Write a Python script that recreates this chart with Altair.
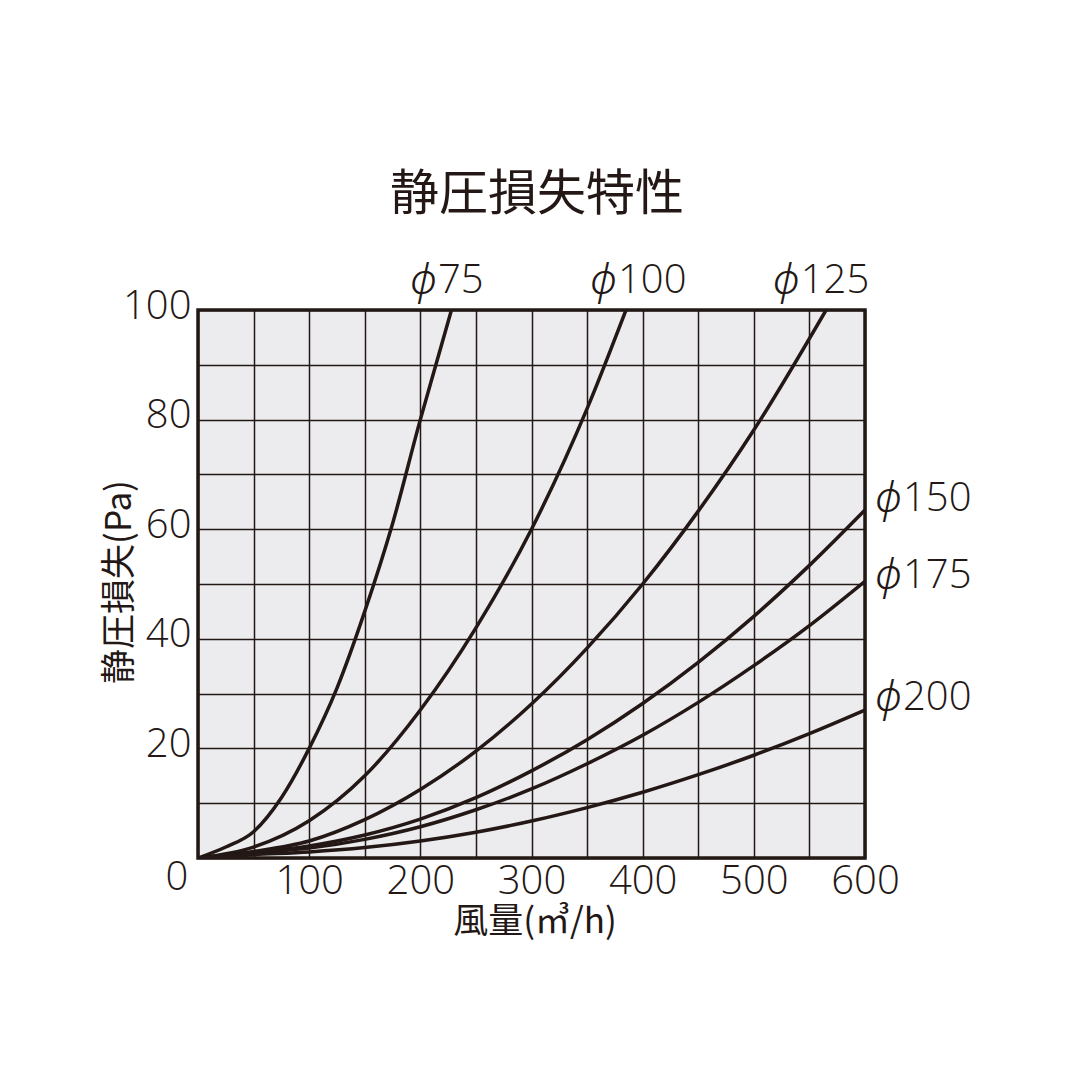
import altair as alt
import pandas as pd

# --- data ---
flow_75 = [0, 25, 50, 75, 100, 125, 150, 175, 200, 214, 228]
loss_75 = [0, 2.0, 4.8, 11, 20, 31, 45, 61, 80, 90, 100]

flow_100 = [0, 50, 100, 150, 200, 250, 300, 350, 385]
loss_100 = [0, 2.0, 6.8, 15, 27, 42, 60, 82, 100]

flow_125 = [0, 50, 100, 150, 200, 250, 300, 350, 400, 450, 500, 565]
loss_125 = [0, 1.2, 3.1, 7, 12.5, 19.5, 28.1, 38.3, 50, 63.3, 78.1, 100]

flow_150 = [0, 50, 100, 150, 200, 250, 300, 350, 400, 450, 500, 550, 600]
loss_150 = [0, 1.0, 2.2, 4.2, 7.1, 11, 15.9, 21.6, 28.2, 35.7, 44.1, 53.4, 63.5]

flow_175 = [0, 50, 100, 150, 200, 250, 300, 350, 400, 450, 500, 550, 600]
loss_175 = [0, 0.9, 1.8, 3.4, 5.7, 8.8, 12.6, 17.2, 22.4, 28.4, 35.1, 42.4, 50.5]

flow_200 = [0, 50, 100, 150, 200, 250, 300, 350, 400, 450, 500, 550, 600]
loss_200 = [0, 0.6, 1.1, 1.9, 3.1, 4.7, 6.75, 9.2, 12, 15.2, 18.75, 22.7, 27]

series_names = ["ϕ75", "ϕ100", "ϕ125", "ϕ150", "ϕ175", "ϕ200"]

# diameter labels: the ϕ sign and the number
label_phi = ["ϕ", "ϕ", "ϕ", "ϕ", "ϕ", "ϕ"]
label_num = ["75", "100", "125", "150", "175", "200"]
label_x = [190.7, 352.6, 517, 600, 600, 600]
label_y = [100, 100, 100, 65.5, 51.5, 29.2]
label_dx = [0, 0, 0, 10, 10, 10]
label_dy = [-29, -29, -29, 0, 0, 0]

title_text = "静圧損失特性"
x_title = "風量(㎥/h)"
y_title = "静圧損失(Pa)"

INK = "#231815"
NUM_FONT = "Open Sans"
JP_FONT = "Noto Sans CJK JP"
NUM_SIZE = 40

rows = []
for name, fx, ly in zip(
    series_names,
    [flow_75, flow_100, flow_125, flow_150, flow_175, flow_200],
    [loss_75, loss_100, loss_125, loss_150, loss_175, loss_200],
):
    for q, p in zip(fx, ly):
        rows.append({"series": name, "flow": q, "loss": p})
curves = pd.DataFrame(rows)

x_scale = alt.Scale(domain=[0, 600], nice=False, zero=True)
y_scale = alt.Scale(domain=[0, 100], nice=False, zero=True)

x_axis = alt.Axis(
    values=list(range(0, 601, 50)),
    labelExpr="(datum.value % 100 == 0 && datum.value > 0) ? datum.label : ''",
    title=None, domain=False, ticks=False, grid=True,
    labelPadding=3, labelFontSize=NUM_SIZE, labelFont=NUM_FONT, labelColor=INK,
    labelFontWeight=300, labelFlush=False, labelOverlap=False,
)
y_axis = alt.Axis(
    values=list(range(0, 101, 10)),
    labelExpr="(datum.value % 20 == 0 && datum.value > 0) ? datum.label : ''",
    title=None, domain=False, ticks=False, grid=True,
    labelPadding=7, labelFontSize=NUM_SIZE, labelFont=NUM_FONT, labelColor=INK,
    labelOffset=-4, labelFontWeight=300, labelFlush=False, labelOverlap=False,
)

lines = alt.Chart(curves).mark_line(
    color=INK, strokeWidth=3.5, interpolate="monotone", strokeCap="round", clip=True
).encode(
    x=alt.X("flow:Q", scale=x_scale, axis=x_axis),
    y=alt.Y("loss:Q", scale=y_scale, axis=y_axis),
    detail="series:N",
)

lab_df = pd.DataFrame({
    "phi": label_phi, "num": label_num, "flow": label_x, "loss": label_y,
    "dx": label_dx, "dy": label_dy,
})

def label_layer(text_field, extra_dx, font, size, style, rows_slice):
    sub = lab_df.iloc[rows_slice].reset_index(drop=True)
    base_dx = int(sub["dx"].iloc[0]) + extra_dx
    base_dy = int(sub["dy"].iloc[0])
    return alt.Chart(sub).mark_text(
        fontSize=size, font=font, color=INK, align="left", baseline="middle",
        dx=base_dx, dy=base_dy, fontStyle=style, fontWeight=300,
    ).encode(
        x=alt.X("flow:Q", scale=x_scale),
        y=alt.Y("loss:Q", scale=y_scale),
        text=f"{text_field}:N",
    )

PHI_FONT = "Noto Sans"
top_phi = label_layer("phi", 0, PHI_FONT, 42, "italic", slice(0, 3))
top_num = label_layer("num", 28, NUM_FONT, NUM_SIZE, "normal", slice(0, 3))
side_phi = label_layer("phi", 0, PHI_FONT, 42, "italic", slice(3, 6))
side_num = label_layer("num", 28, NUM_FONT, NUM_SIZE, "normal", slice(3, 6))

zero_df = pd.DataFrame({"label": ["0"], "flow": [0], "loss": [0]})
zero_text = alt.Chart(zero_df).mark_text(
    fontSize=NUM_SIZE, font=NUM_FONT, color=INK, align="center", baseline="middle",
    dx=-21, dy=20, fontWeight=300,
).encode(x=alt.X("flow:Q", scale=x_scale), y=alt.Y("loss:Q", scale=y_scale), text="label:N")

one = pd.DataFrame({"t": [title_text], "xt": [x_title], "yt": [y_title]})
title_mark = alt.Chart(one).mark_text(
    fontSize=49, font=JP_FONT, color=INK, align="center", baseline="middle"
).encode(x=alt.value(339), y=alt.value(-115), text="t:N")
xtitle_mark = alt.Chart(one).mark_text(
    fontSize=35, font=JP_FONT, color=INK, align="center", baseline="middle"
).encode(x=alt.value(337), y=alt.value(612), text="xt:N")
ytitle_mark = alt.Chart(one).mark_text(
    fontSize=35, font=JP_FONT, color=INK, align="center", baseline="middle", angle=270
).encode(x=alt.value(-78), y=alt.value(272), text="yt:N")

chart = alt.layer(
    lines, top_phi, top_num, side_phi, side_num, zero_text,
    title_mark, xtitle_mark, ytitle_mark
).properties(
    width=667, height=548,
    autosize=alt.AutoSizeParams(type="none"),
    padding={"left": 190, "top": 302, "right": 207, "bottom": 214},
    background="white",
).configure_view(
    fill="#ecebee", stroke=INK, strokeWidth=3.5,
).configure_axis(
    gridColor=INK, gridWidth=1.5, gridOpacity=1,
)

chart.save("out.html", embed_options={"renderer": "svg", "actions": False})
